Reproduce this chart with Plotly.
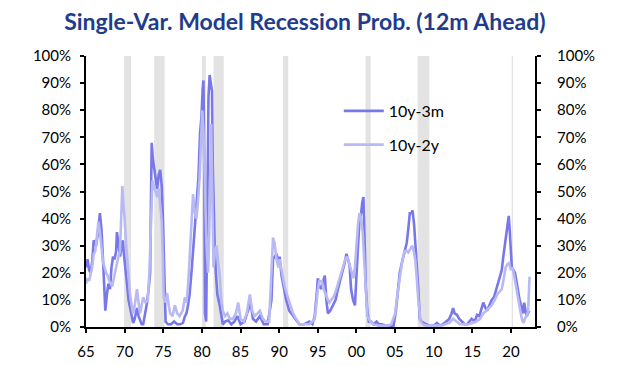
import plotly.graph_objects as go

# ---------------- data ----------------
tick_years = [1965, 1970, 1975, 1980, 1985, 1990, 1995, 2000, 2005, 2010, 2015, 2020]
tick_labels = ["65", "70", "75", "80", "85", "90", "95", "00", "05", "10", "15", "20"]
y_ticks = [0, 10, 20, 30, 40, 50, 60, 70, 80, 90, 100]
y_tick_labels = ["0%", "10%", "20%", "30%", "40%", "50%", "60%", "70%", "80%", "90%", "100%"]

rec_start = [1969.92, 1973.83, 1980.00, 1981.50, 1990.50, 2001.17, 2007.92, 2020.08]
rec_end   = [1970.83, 1975.17, 1980.50, 1982.83, 1991.17, 2001.83, 2009.42, 2020.25]

t_3m = [1965.0, 1965.2, 1965.4, 1965.6, 1965.8, 1966.0, 1966.3, 1966.6, 1966.8, 1967.0,
        1967.2, 1967.35, 1967.5, 1967.7, 1967.9, 1968.1, 1968.3, 1968.5, 1968.7, 1968.9,
        1969.0, 1969.2, 1969.4, 1969.6, 1969.75, 1969.9, 1970.1, 1970.3, 1970.5, 1970.7,
        1970.9, 1971.1, 1971.3, 1971.6, 1971.8, 1972.0, 1972.2, 1972.4, 1972.6, 1972.9,
        1973.1, 1973.3, 1973.4, 1973.5, 1973.65, 1973.8, 1974.0, 1974.2, 1974.4, 1974.6,
        1974.8, 1974.95, 1975.05, 1975.2, 1975.3, 1975.6, 1976.0, 1976.4, 1976.8, 1977.2,
        1977.55, 1977.8, 1978.0, 1978.2, 1978.4, 1978.7, 1979.0, 1979.3, 1979.55, 1979.75,
        1979.95, 1980.1, 1980.2, 1980.3, 1980.4, 1980.55, 1980.7, 1980.85, 1981.0, 1981.15,
        1981.3, 1981.4, 1981.5, 1981.65, 1981.8, 1982.0, 1982.3, 1982.5, 1982.7, 1983.0,
        1983.4, 1983.8, 1984.2, 1984.6, 1985.0, 1985.5, 1986.0, 1986.3, 1986.6, 1987.0,
        1987.5, 1988.0, 1988.5, 1989.0, 1989.2, 1989.4, 1989.65, 1989.9, 1990.05, 1990.3,
        1990.5, 1990.7, 1990.9, 1991.3, 1991.8, 1992.3, 1992.6, 1993.2, 1993.9, 1994.3,
        1994.6, 1994.85, 1995.0, 1995.2, 1995.45, 1995.7, 1995.9, 1996.1, 1996.3, 1996.6,
        1997.0, 1997.3, 1997.6, 1997.9, 1998.1, 1998.3, 1998.5, 1998.7, 1998.9, 1999.1,
        1999.3, 1999.55, 1999.8, 2000.0, 2000.2, 2000.4, 2000.6, 2000.75, 2000.9, 2001.05,
        2001.2, 2001.4, 2001.6, 2001.9, 2002.2, 2002.6, 2002.9, 2003.3, 2003.8, 2004.3,
        2004.8, 2005.1, 2005.4, 2005.6, 2005.9, 2006.2, 2006.5, 2006.7, 2006.9, 2007.1,
        2007.25, 2007.45, 2007.6, 2007.8, 2008.0, 2008.2, 2008.4, 2008.7, 2009.0, 2009.5,
        2010.0, 2010.4, 2010.8, 2011.2, 2011.6, 2012.0, 2012.3, 2012.5, 2012.7, 2013.0,
        2013.3, 2013.6, 2014.0, 2014.3, 2014.6, 2014.9, 2015.3, 2015.6, 2015.9, 2016.2,
        2016.4, 2016.7, 2016.9, 2017.2, 2017.5, 2017.8, 2018.0, 2018.2, 2018.4, 2018.6,
        2018.8, 2019.0, 2019.2, 2019.4, 2019.55, 2019.7, 2019.8, 2019.9, 2020.0, 2020.1,
        2020.3, 2020.5, 2020.7, 2020.9, 2021.1, 2021.4, 2021.55, 2021.7, 2021.85, 2022.0,
        2022.2, 2022.35]
p_3m = [22, 25, 21, 20, 24, 32, 30, 36, 42, 36,
        25, 12, 6, 12, 16, 14, 22, 26, 25, 28,
        35, 31, 26, 30, 32, 27, 20, 16, 10, 7,
        4, 1.5, 3, 7, 4, 2, 1, 1, 4, 9,
        14, 20, 45, 68, 62, 58, 55, 51, 56, 58,
        52, 40, 26, 8, 2, 1, 1, 2, 1, 1,
        1.5, 4, 5, 8, 12, 22, 34, 47, 55, 71,
        78, 88, 91, 60, 5, 2, 40, 85, 93, 90,
        87, 60, 43, 30, 20, 12, 8, 4, 1, 2,
        2.5, 1, 2, 4, 1, 2, 6, 9, 3, 2,
        4, 1, 1, 10, 25, 26, 27, 24, 26, 19,
        16, 12, 10, 6, 4, 2, 1, 1, 2, 1,
        4, 12, 18, 15, 14, 17, 19, 10, 5, 6,
        8, 10, 14, 17, 19, 21, 24, 27, 25, 23,
        14, 10, 8, 17, 30, 40, 42, 46, 48, 32,
        15, 6, 2, 2, 1, 2, 1, 1, 0.5, 0.5,
        0.5, 6, 14, 20, 24, 28, 31, 36, 42, 42,
        43, 38, 32, 22, 14, 3, 2, 1.5, 1, 0.5,
        0.5, 1.5, 0.5, 1, 2, 3, 5, 7, 5, 4.5,
        3, 2, 1, 1, 2, 3, 2, 4.5, 4, 7,
        9, 7, 6, 8, 10, 11, 13, 15, 17, 19,
        21, 26, 30, 35, 38, 41, 37, 32, 26, 22,
        21, 20, 17, 14, 10, 7, 5, 9, 6, 4,
        5, 6]

t_2y = [1965.0, 1965.2, 1965.4, 1965.6, 1965.8, 1966.0, 1966.2, 1966.4, 1966.6, 1966.8,
        1967.0, 1967.2, 1967.4, 1967.6, 1967.8, 1968.0, 1968.2, 1968.4, 1968.6, 1968.8,
        1969.0, 1969.2, 1969.4, 1969.55, 1969.7, 1969.85, 1970.0, 1970.2, 1970.4, 1970.55,
        1970.7, 1970.9, 1971.1, 1971.3, 1971.6, 1971.8, 1972.0, 1972.2, 1972.4, 1972.7,
        1973.0, 1973.2, 1973.35, 1973.5, 1973.6, 1973.8, 1974.0, 1974.2, 1974.4, 1974.6,
        1974.8, 1974.95, 1975.05, 1975.3, 1975.5, 1975.7, 1975.9, 1976.2, 1976.5, 1976.8,
        1977.1, 1977.5, 1977.8, 1978.0, 1978.2, 1978.4, 1978.6, 1978.85, 1979.1, 1979.3,
        1979.5, 1979.7, 1979.9, 1980.05, 1980.2, 1980.4, 1980.6, 1980.8, 1980.95, 1981.1,
        1981.2, 1981.35, 1981.5, 1981.7, 1981.9, 1982.1, 1982.3, 1982.5, 1982.7, 1983.0,
        1983.3, 1983.6, 1984.0, 1984.4, 1984.7, 1985.0, 1985.4, 1985.8, 1986.2, 1986.5,
        1986.8, 1987.2, 1987.5, 1987.9, 1988.3, 1988.7, 1989.0, 1989.2, 1989.4, 1989.65,
        1989.9, 1990.05, 1990.3, 1990.5, 1990.7, 1991.0, 1991.4, 1991.8, 1992.2, 1992.6,
        1993.2, 1993.9, 1994.3, 1994.6, 1994.8, 1995.0, 1995.2, 1995.5, 1995.75, 1996.0,
        1996.3, 1996.5, 1996.8, 1997.0, 1997.3, 1997.6, 1997.9, 1998.1, 1998.3, 1998.55,
        1998.8, 1999.0, 1999.2, 1999.4, 1999.6, 1999.8, 2000.0, 2000.2, 2000.4, 2000.6,
        2000.8, 2001.0, 2001.15, 2001.4, 2001.8, 2002.2, 2002.8, 2003.4, 2004.0, 2004.5,
        2005.0, 2005.3, 2005.6, 2005.9, 2006.2, 2006.5, 2006.7, 2006.95, 2007.2, 2007.4,
        2007.6, 2007.8, 2008.0, 2008.3, 2008.6, 2009.0, 2009.5, 2010.0, 2010.5, 2011.0,
        2011.5, 2012.0, 2012.5, 2012.9, 2013.4, 2014.0, 2014.5, 2015.0, 2015.5, 2016.0,
        2016.4, 2016.8, 2017.2, 2017.5, 2017.9, 2018.2, 2018.5, 2018.8, 2019.0, 2019.3,
        2019.5, 2019.7, 2019.9, 2020.0, 2020.2, 2020.5, 2020.8, 2021.0, 2021.2, 2021.4,
        2021.6, 2021.8, 2022.0, 2022.2, 2022.3, 2022.4]
p_2y = [16, 18, 17, 20, 22, 27, 28, 33, 39, 35,
        28, 24, 22, 20, 19, 17, 16, 15, 18, 21,
        24, 26, 28, 40, 52, 45, 40, 30, 22, 15,
        12, 8, 5, 8, 14, 9, 5, 8, 11, 9,
        10, 20, 33, 48, 54, 52, 50, 48, 51, 46,
        39, 25, 11, 9, 12.5, 8, 5, 4, 8, 5,
        4, 6, 11, 9, 15, 25, 38, 49, 42, 40,
        47, 55, 70, 80, 72, 45, 30, 20, 35, 60,
        75, 48, 22, 28, 30, 24, 19, 10, 6, 4,
        5, 3, 3, 5, 9, 3, 2, 5, 12, 6,
        4, 5, 6, 3, 2, 2, 20, 33, 31, 25,
        22, 25, 21, 18, 15, 12, 8, 5, 3, 1,
        1, 1, 2, 3, 8, 14, 17, 17, 14, 12,
        10, 9, 10, 11, 13, 16, 19, 21, 23, 25,
        26, 24, 22, 20, 18, 22, 30, 38, 42, 40,
        35, 25, 14, 4, 2, 1, 0.5, 0.5, 0.5, 1,
        5, 12, 18, 24, 28, 28, 27.5, 29, 30, 28,
        25, 18, 10, 2, 1, 0.5, 0.5, 0.5, 0.5, 0.5,
        1, 1.5, 3, 2, 1, 1, 1, 1.5, 2, 3,
        5, 6, 7, 8, 10, 12, 13, 14, 17, 22,
        23, 23.5, 22, 21, 22, 17, 12, 8, 6, 3,
        1.5, 3, 4, 5.5, 12, 18.6]

series_names = ["10y-3m", "10y-2y"]

# ---------------- styling ----------------
DARK = "#7878EA"
LIGHT = "#B9B9F4"
FONT = "Lato"

fig = go.Figure()

for s, e in zip(rec_start, rec_end):
    fig.add_vrect(x0=s, x1=e, fillcolor="#E3E3E3", line_width=0, layer="below")

fig.add_trace(go.Scatter(x=t_3m, y=p_3m, name=series_names[0], mode="lines",
                         line=dict(color=DARK, width=2.6), legendgroup="a",
                         legendrank=1, yaxis="y"))
fig.add_trace(go.Scatter(x=t_2y, y=p_2y, name=series_names[1], mode="lines",
                         line=dict(color=LIGHT, width=2.6), legendgroup="b",
                         legendrank=2, yaxis="y2"))

axis_common = dict(range=[0, 100], tickmode="array", tickvals=y_ticks, ticktext=y_tick_labels,
                   showline=True, linecolor="black", linewidth=2,
                   ticks="outside", ticklen=4, tickwidth=2, tickcolor="black",
                   showgrid=False, zeroline=False, automargin=False,
                   tickfont=dict(family=FONT, size=15, color="black"))

# the page body has an 8px default margin; margins below compensate for it
fig.update_layout(
    width=625, height=358,
    margin=dict(l=78, r=98, t=48, b=39, autoexpand=False),
    paper_bgcolor="white", plot_bgcolor="white",
    title=dict(text="<b>Single-Var. Model Recession Prob. (12m Ahead)</b>",
               x=0.475, xanchor="center", y=1 - 14 / 358, yanchor="middle",
               font=dict(family=FONT, size=23, color="#1F3C8C")),
    xaxis=dict(range=[1965, 2023.1], tickmode="array", tickvals=tick_years, ticktext=tick_labels,
               showline=True, linecolor="black", linewidth=2,
               ticks="outside", ticklen=4, tickwidth=2, tickcolor="black",
               showgrid=False, zeroline=False, automargin=False, ticklabelstandoff=6,
               tickfont=dict(family=FONT, size=15, color="black")),
    yaxis=dict(**axis_common, side="left", ticklabelstandoff=6),
    yaxis2=dict(**axis_common, side="right", overlaying="y", anchor="x", ticklabelstandoff=13),
    legend=dict(x=0.563, y=0.86, xanchor="left", yanchor="top",
                bgcolor="rgba(0,0,0,0)", traceorder="grouped", tracegroupgap=10,
                font=dict(family=FONT, size=16, color="black"), itemwidth=40),
    showlegend=True,
)

fig.write_html("out.html")
